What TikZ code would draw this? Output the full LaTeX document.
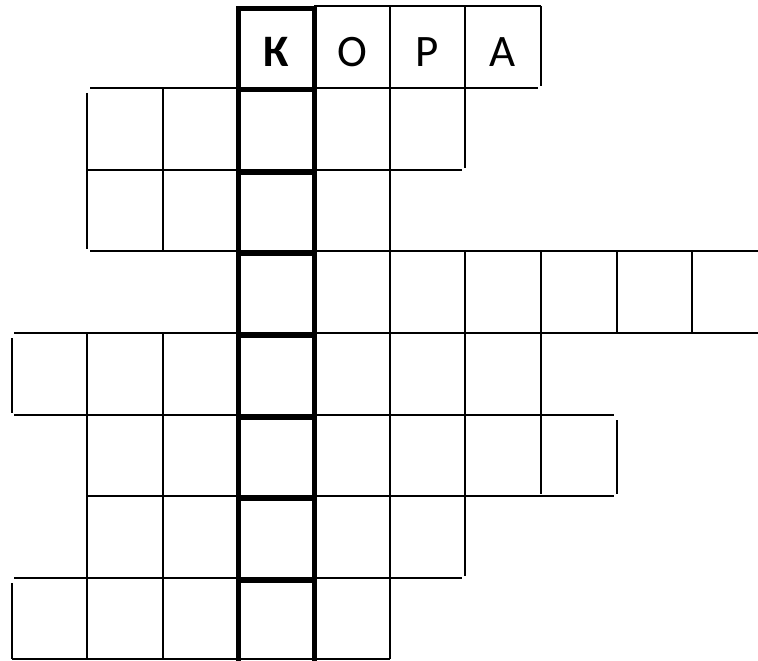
\documentclass[tikz,border=0pt]{standalone}
\usepackage{fontspec}
\setmainfont{Carlito}
\begin{document}
\begin{tikzpicture}[x=1pt,y=-1pt,
  thin line/.style={line width=1.7pt,black},
  thick line/.style={line width=5pt,black},
  letter/.style={anchor=base,inner sep=0pt,font=\fontsize{45}{50}\selectfont}]
\useasboundingbox (0,0) rectangle (758,661);
% thin horizontals
\draw[thin line] (314,6) -- (541,6);
\draw[thin line] (90,88) -- (538,88);
\draw[thin line] (87,170) -- (462,170);
\draw[thin line] (90,251) -- (758,251);
\draw[thin line] (14,333) -- (758,333);
\draw[thin line] (14,415) -- (614,415);
\draw[thin line] (87,496) -- (614,496);
\draw[thin line] (14,578) -- (462,578);
\draw[thin line] (12,659) -- (390,659);
% thin verticals
\draw[thin line] (12,338) -- (12,413);
\draw[thin line] (12,583) -- (12,659);
\draw[thin line] (87,93) -- (87,249);
\draw[thin line] (87,333) -- (87,659);
\draw[thin line] (163,88) -- (163,251);
\draw[thin line] (163,333) -- (163,659);
\draw[thin line] (390,6) -- (390,659);
\draw[thin line] (465,6) -- (465,168);
\draw[thin line] (465,251) -- (465,576);
\draw[thin line] (541,6) -- (541,86);
\draw[thin line] (541,251) -- (541,494);
\draw[thin line] (617,251) -- (617,333);
\draw[thin line] (617,420) -- (617,494);
\draw[thin line] (692,251) -- (692,333);
% thick column
\draw[thick line] (238,6.5) -- (238,661);
\draw[thick line] (314,6.5) -- (314,661);
\foreach \yy in {9,90,172,253,335,417,498,580}
  \draw[thick line] (238,\yy) -- (314,\yy);
% letters
\node[letter] (k) at (276.5,66.5) {\textbf{К}};
\node[letter] (o) at (352,66.5) {О};
\node[letter] (p) at (427,66.5) {Р};
\node[letter] (a) at (503,66.5) {А};
\end{tikzpicture}
\end{document}
